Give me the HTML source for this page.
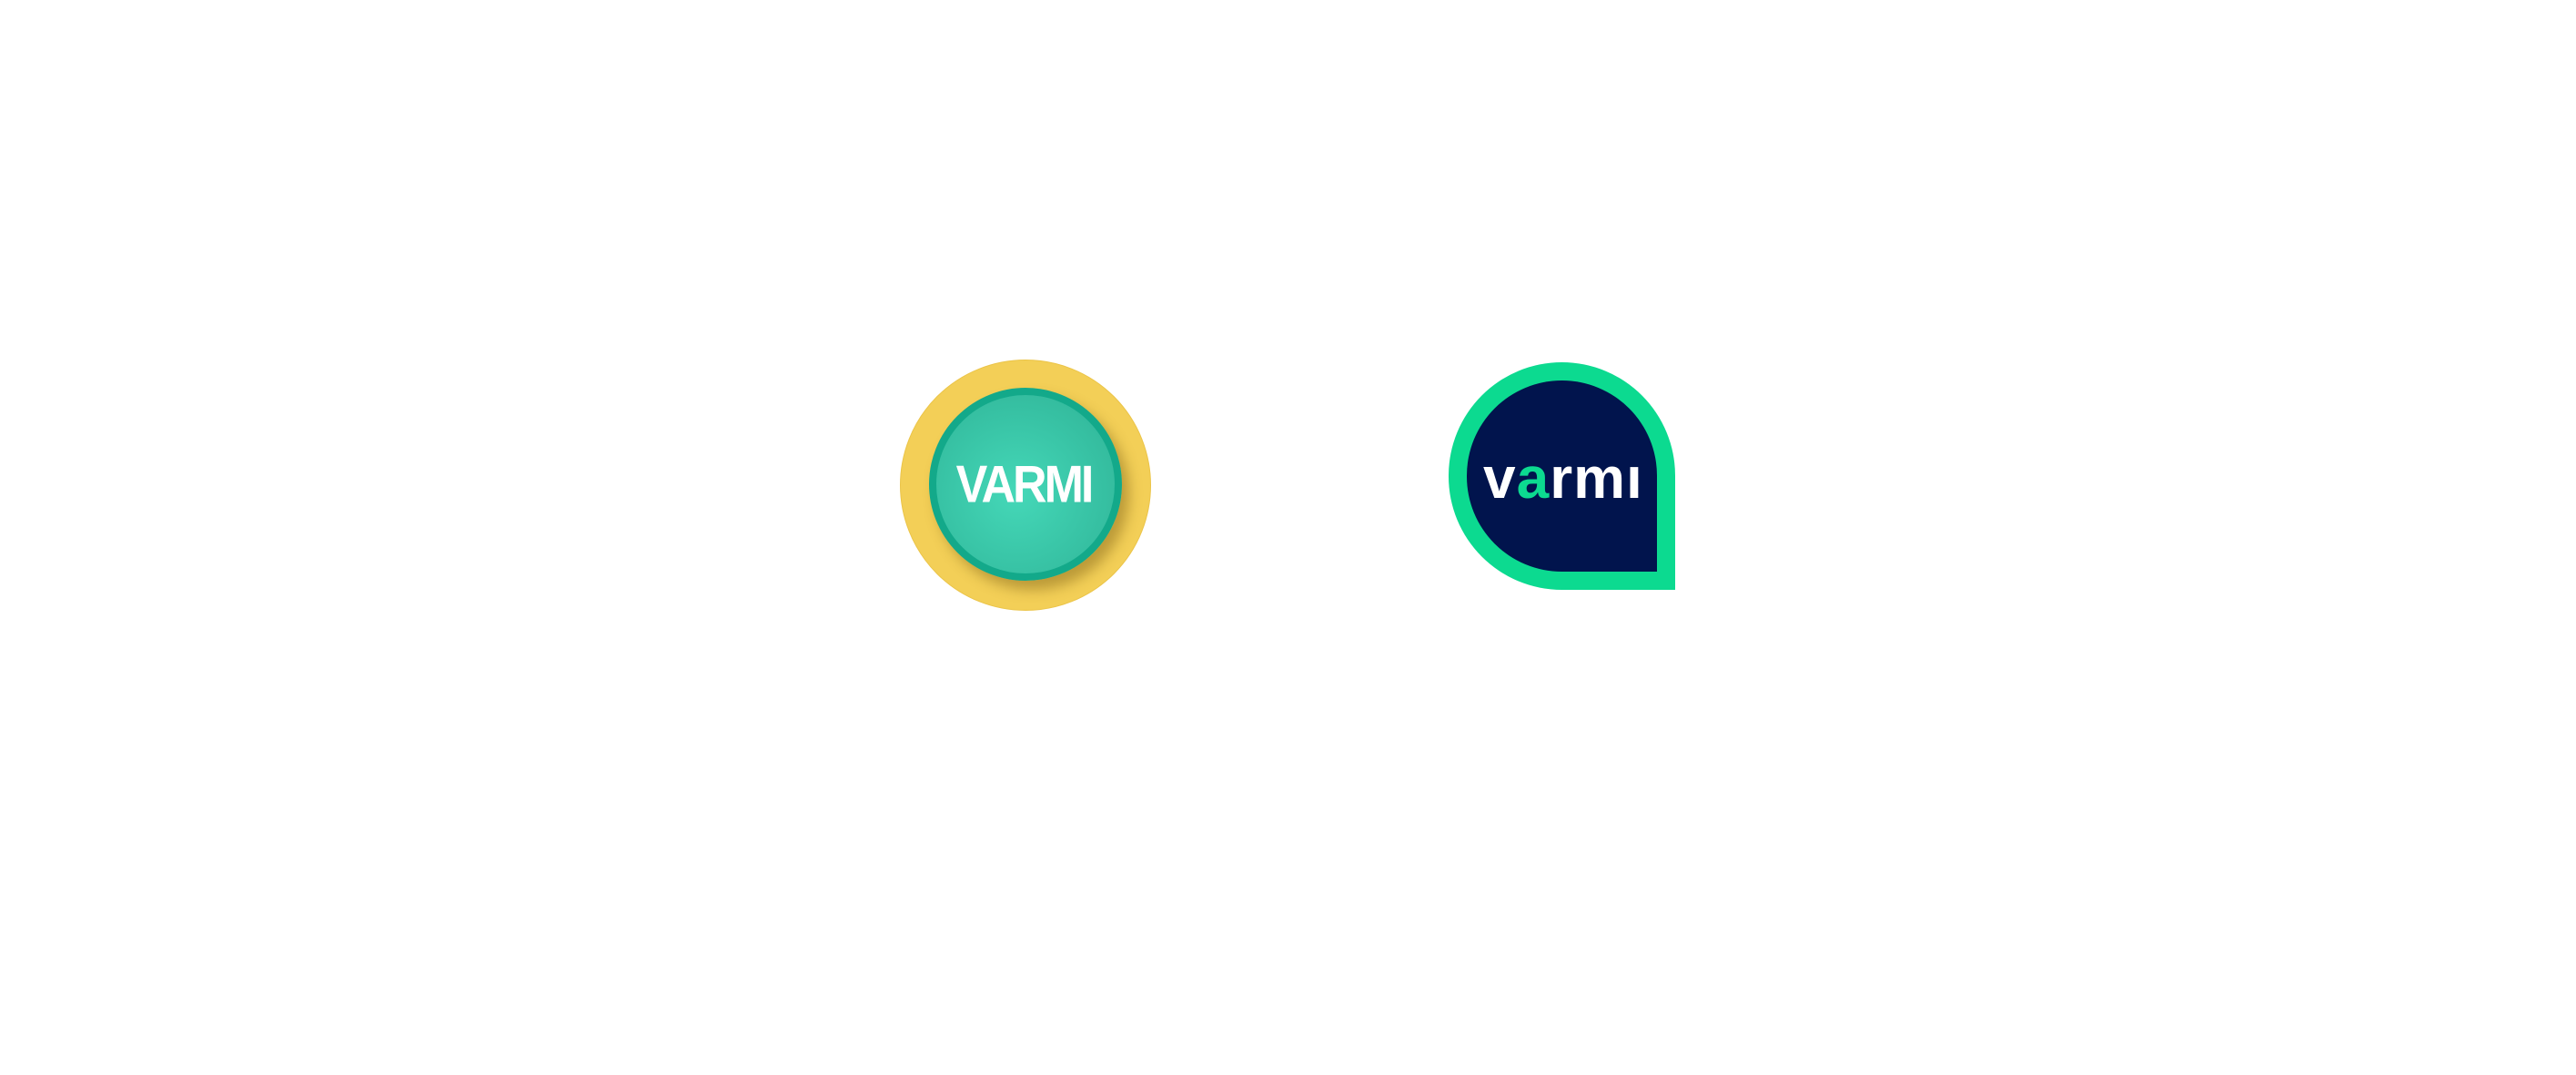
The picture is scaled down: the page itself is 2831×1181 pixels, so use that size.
<!DOCTYPE html>
<html><head><style>
html,body{margin:0;padding:0;background:#fff;width:2831px;height:1181px;overflow:hidden;position:relative;font-family:"Liberation Sans",sans-serif}
.y{position:absolute;left:989px;top:395px;width:276px;height:276px;border-radius:50%;background:#f3cf57;border:1px solid #ebc448;box-sizing:border-box}
.t{position:absolute;left:1021px;top:426px;width:212px;height:212px;border-radius:50%;box-sizing:border-box;border:8px solid #13a98a;background:radial-gradient(circle at 45% 55%,#45d8b8 0%,#38c3a5 55%,#2fb295 100%);box-shadow:8px 10px 14px rgba(120,90,20,0.45)}
.tt{position:absolute;left:1040px;top:505px;width:170px;text-align:center;color:#fff;font-weight:bold;font-size:52px;letter-spacing:-3px;line-height:56px;transform:scaleY(1.1)}
.g{position:absolute;left:1592px;top:398px;width:249px;height:250px;background:#0cda90;border-radius:125px 125px 0 125px}
.n{position:absolute;left:1612px;top:418px;width:209px;height:210px;background:#01144d;border-radius:105px 105px 0 105px}
.nt{position:absolute;left:1630px;top:485px;font-size:64px;font-weight:bold;color:#fff;line-height:80px;letter-spacing:1px}
</style></head><body>
<div class="y"></div>
<div class="t"></div>
<div class="tt">VARMI</div>
<div class="g"></div>
<div class="n"></div>
<div class="nt">v<span style="color:#0cda90">a</span>rmı</div>
</body></html>
